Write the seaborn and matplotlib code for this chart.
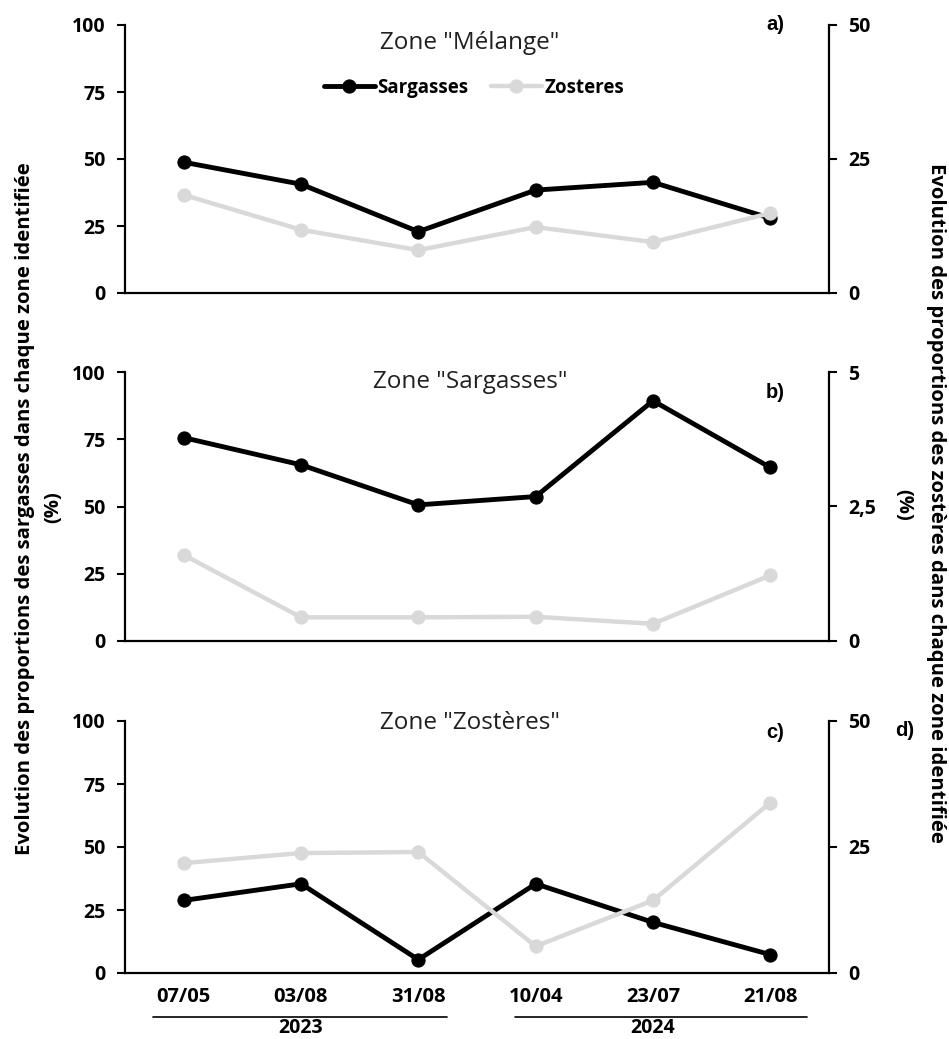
import matplotlib
matplotlib.use("Agg")
import matplotlib.pyplot as plt
import matplotlib.transforms as mtransforms
import seaborn as sns
import pandas as pd

# dates de prélèvement
dates = ["07/05", "03/08", "31/08", "10/04", "23/07", "21/08"]
years = ["2023", "2024"]

# Zone "Mélange"
sarg_melange = [48.8, 40.6, 22.9, 38.4, 41.3, 27.9]
zost_melange = [18.3, 11.8, 8.0, 12.3, 9.5, 14.9]
# Zone "Sargasses"
sarg_sargasses = [75.6, 65.5, 50.6, 53.7, 89.3, 64.5]
zost_sargasses = [1.6, 0.44, 0.44, 0.45, 0.32, 1.22]
# Zone "Zostères"
sarg_zosteres = [28.8, 35.4, 5.3, 35.4, 20.1, 7.3]
zost_zosteres = [21.8, 23.8, 24.0, 5.3, 14.4, 33.8]

zones = ['Zone "Mélange"', 'Zone "Sargasses"', 'Zone "Zostères"']
letters = ["a)", "b)", "c)"]
right_max = [50, 5, 50]
right_ticks = [[0, 25, 50], [0, 2.5, 5], [0, 25, 50]]
right_labels = [["0", "25", "50"], ["0", "2,5", "5"], ["0", "25", "50"]]

sarg = [sarg_melange, sarg_sargasses, sarg_zosteres]
zost = [zost_melange, zost_sargasses, zost_zosteres]

sns.set_style("white")
plt.rcParams['font.family'] = ['Open Sans', 'DejaVu Sans']
plt.rcParams['text.color'] = 'black'
plt.rcParams['xtick.color'] = 'black'
plt.rcParams['ytick.color'] = 'black'
plt.rcParams['axes.labelcolor'] = 'black'

black = "#000000"
grey = "#d9d9d9"

fig = plt.figure(figsize=(9.49, 10.39), dpi=100)
W, H = 949, 1039
boxes = [(25, 293), (372, 641), (721, 973)]
title_y = [43, 382, 723]
letter_y = [25, 392, 732]
left_px, right_px = 125, 829

for i in range(3):
    top, bot = boxes[i]
    h = bot - top
    ax = fig.add_axes([left_px / W, 1 - bot / H, (right_px - left_px) / W, h / H])
    ax.set_facecolor("none")
    df = pd.DataFrame({"date": dates, "sarg": sarg[i], "zost": zost[i]})

    sns.lineplot(data=df, x="date", y="sarg", ax=ax, color=black, lw=3.5,
                 marker="o", markersize=9.5, markeredgecolor=black, label="Sargasses", legend=False)
    ax2 = ax.twinx()
    sns.lineplot(data=df, x="date", y="zost", ax=ax2, color=grey, lw=3.2,
                 marker="o", markersize=9.5, markeredgecolor=grey, label="Zosteres", legend=False)

    ax.set_xlim(-0.5, 5.5)
    ax.set_ylim(0, 100)
    ax2.set_ylim(0, right_max[i])
    ax.set_xlabel("")
    ax.set_ylabel("")
    ax2.set_ylabel("")

    ax.set_yticks([0, 25, 50, 75, 100])
    ax.set_yticklabels(["0", "25", "50", "75", "100"], fontweight="bold", fontsize=14)
    ax2.set_yticks(right_ticks[i])
    ax2.set_yticklabels(right_labels[i], fontweight="bold", fontsize=14)

    ax.set_xticks([0.5, 1.5, 2.5, 3.5, 4.5])
    ax.set_xticklabels([])
    ax.tick_params(axis="x", which="major", direction="in", length=6, width=1.5)
    ax.tick_params(axis="y", direction="out", length=6, width=1.5, left=True, pad=8)
    ax2.tick_params(axis="y", direction="out", length=6, width=1.5, right=True, pad=8)

    for s in ["top", "right"]:
        ax.spines[s].set_visible(False)
    for s in ["top", "left", "bottom"]:
        ax2.spines[s].set_visible(False)
    for s in ["left", "bottom"]:
        ax.spines[s].set_linewidth(1.6)
        ax.spines[s].set_color(black)
    ax2.spines["right"].set_linewidth(1.6)
    ax2.spines["right"].set_color(black)

    ax.text(0.49, 1 - (title_y[i] - top) / h, zones[i],
            transform=ax.transAxes, ha="center", va="center", fontsize=17.5, color="#202020")
    ax.text((775 - left_px) / (right_px - left_px), 1 - (letter_y[i] - top) / h,
            letters[i], transform=ax.transAxes, ha="center", va="center",
            fontsize=14.5, fontweight="bold", family="Liberation Sans")

    if i == 0:
        handles = [ax.get_lines()[0], ax2.get_lines()[0]]
        ax.legend(handles, ["Sargasses", "Zosteres"], loc="center",
                  bbox_to_anchor=(0.496, 1 - (88 - top) / h), ncol=2, frameon=False,
                  prop={"weight": "bold", "size": 13.5}, handlelength=2.7, handletextpad=0.15,
                  columnspacing=1.2)

    if i == 2:
        ax.set_xticks(range(len(dates)), minor=True)
        ax.set_xticklabels(dates, minor=True, fontweight="bold", fontsize=14.5)
        ax.tick_params(axis="x", which="minor", length=0, pad=10)
        trans = mtransforms.blended_transform_factory(ax.transData, ax.transAxes)
        for (x0, x1, xc), yr in zip([(-0.26, 2.245, 1), (2.82, 5.31, 4)], years):
            ax.plot([x0, x1], [-43.7 / h, -43.7 / h], color=black, lw=1.2,
                    transform=trans, clip_on=False)
            ax.text(xc, -55 / h, yr, transform=trans, ha="center", va="center",
                    fontsize=14, fontweight="bold")
        ax.text((905 - left_px) / (right_px - left_px), 1 - (730 - top) / h, "d)",
                transform=ax.transAxes, ha="center", va="center",
                fontsize=14.5, fontweight="bold", family="Liberation Sans")

# titres des axes y (deux lignes chacun)
fig.text(25 / W, 1 - 509 / H,
         "Evolution des proportions des sargasses dans chaque zone identifiée",
         rotation=90, ha="center", va="center", fontsize=14.6, fontweight="bold")
fig.text(53 / W, 1 - 507 / H, "(%)",
         rotation=90, ha="center", va="center", fontsize=14.6, fontweight="bold")
fig.text(936 / W, 1 - 503 / H,
         "Evolution des proportions des zostères dans chaque zone identifiée",
         rotation=270, ha="center", va="center", fontsize=14.6, fontweight="bold")
fig.text(903 / W, 1 - 505 / H, "(%)",
         rotation=270, ha="center", va="center", fontsize=14.6, fontweight="bold")

fig.savefig("out.png", dpi=100)
